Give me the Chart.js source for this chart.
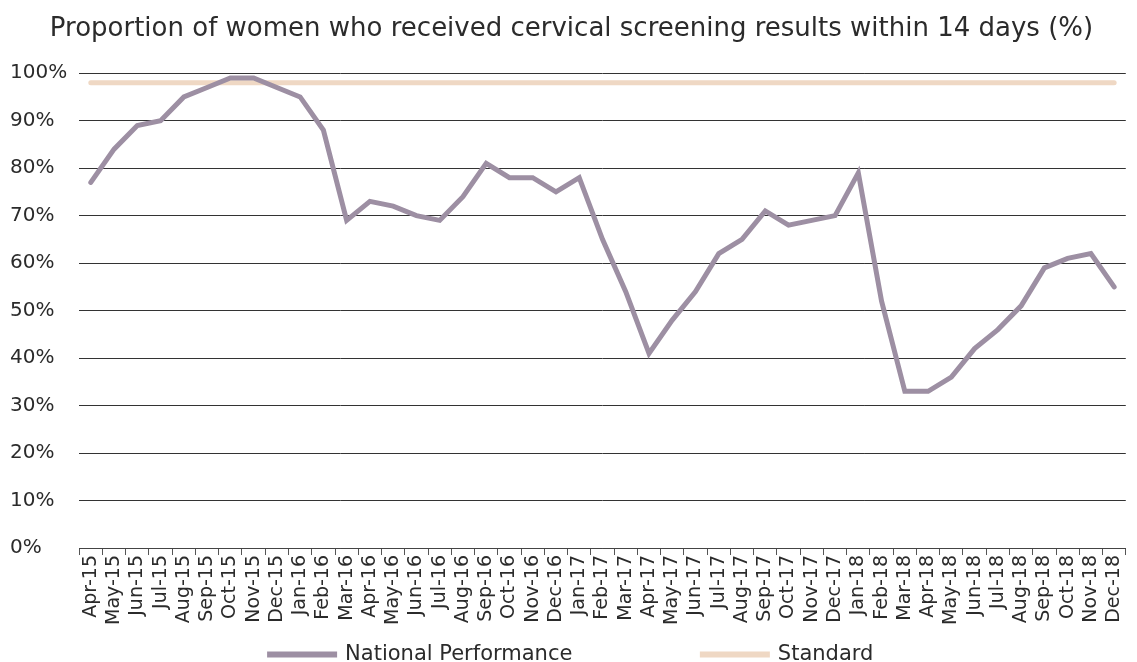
<!DOCTYPE html>
<html>
<head>
<meta charset="utf-8">
<script src="https://cdn.jsdelivr.net/npm/chart.js@4/dist/chart.umd.min.js"></script>
<style>
  html, body { margin: 0; padding: 0; background: #fff; }
  #wrap { width: 1137px; height: 662px; position: relative; }
</style>
</head>
<body>
<div id="wrap"><canvas id="myChart"></canvas></div>
<script>
// Data
const months = ['Apr-15','May-15','Jun-15','Jul-15','Aug-15','Sep-15','Oct-15','Nov-15','Dec-15',
  'Jan-16','Feb-16','Mar-16','Apr-16','May-16','Jun-16','Jul-16','Aug-16','Sep-16','Oct-16','Nov-16','Dec-16',
  'Jan-17','Feb-17','Mar-17','Apr-17','May-17','Jun-17','Jul-17','Aug-17','Sep-17','Oct-17','Nov-17','Dec-17',
  'Jan-18','Feb-18','Mar-18','Apr-18','May-18','Jun-18','Jul-18','Aug-18','Sep-18','Oct-18','Nov-18','Dec-18'];

const nationalPerformance = [77, 84, 89, 90, 95, 97, 99, 99, 97,
  95, 88, 69, 73, 72, 70, 69, 74, 81, 78, 78, 75,
  78, 65, 54, 41, 48, 54, 62, 65, 71, 68, 69, 70,
  79, 52, 33, 33, 36, 42, 46, 51, 59, 61, 62, 55];

const standardValue = 98;
const standard = months.map(() => standardValue);

const titleText = 'Proportion of women who received cervical screening results within 14 days (%)';

const fontFamily = '"DejaVu Sans", "Noto Sans", sans-serif';
const textColor = '#2b2b2b';

// legend items need a wide gap between them, but labels.padding also grows
// the legend's height, so squeeze the box back down after Chart.js fits it
const legendGap = 130;
const legendHeight = 37;
const legendShift = 19;
const legendSpacing = {
  id: 'legendSpacing',
  beforeLayout(chart) {
    const lg = chart.legend;
    if (!lg || lg._spaced) return;
    lg._spaced = true;
    const fit = lg.fit.bind(lg);
    lg.fit = function () {
      fit();
      this.height = legendHeight;
    };
    const draw = lg.draw.bind(lg);
    lg.draw = function () {
      const t = this.top;
      this.top = t - legendGap + legendShift;
      draw();
      this.top = t;
    };
  }
};

const ctx = document.getElementById('myChart').getContext('2d');
const myChart = new Chart(ctx, {
  type: 'line',
  data: {
    labels: months,
    datasets: [{
      label: 'National Performance',
      data: nationalPerformance,
      borderColor: '#9d8fa3',
      backgroundColor: '#9d8fa3',
      borderWidth: 5,
      borderCapStyle: 'round',
      pointRadius: 0,
      tension: 0
    }, {
      label: 'Standard',
      data: standard,
      borderColor: '#efd8c4',
      backgroundColor: '#efd8c4',
      borderWidth: 5,
      borderCapStyle: 'round',
      pointRadius: 0,
      tension: 0
    }]
  },
  plugins: [legendSpacing],
  options: {
    responsive: true,
    maintainAspectRatio: false,
    animation: false,
    layout: { padding: { left: 10, right: 4, top: 0, bottom: 0 } },
    plugins: {
      title: {
        display: true,
        text: titleText,
        color: textColor,
        font: { family: fontFamily, size: 26, weight: 'normal' },
        padding: { top: 14, bottom: 28 }
      },
      legend: {
        position: 'bottom',
        labels: {
          color: textColor,
          font: { family: fontFamily, size: 21 },
          boxWidth: 65,
          boxHeight: 1,
          padding: legendGap
        }
      },
      tooltip: { enabled: false }
    },
    scales: {
      x: {
        offset: true,
        grid: {
          display: true,
          drawOnChartArea: false,
          drawTicks: true,
          tickLength: 7,
          color: '#555',
          offset: true
        },
        border: { display: true, color: '#444', width: 1 },
        ticks: {
          color: textColor,
          font: { family: fontFamily, size: 19 },
          minRotation: 90,
          maxRotation: 90,
          autoSkip: false,
          padding: 0
        }
      },
      y: {
        min: 0,
        max: 100,
        grid: {
          color: '#333',
          lineWidth: 1,
          drawTicks: false
        },
        border: { display: false },
        ticks: {
          stepSize: 10,
          color: textColor,
          font: { family: fontFamily, size: 20 },
          crossAlign: 'far',
          padding: 6,
          callback: (v) => v + '%'
        }
      }
    }
  }
});
</script>
</body>
</html>
